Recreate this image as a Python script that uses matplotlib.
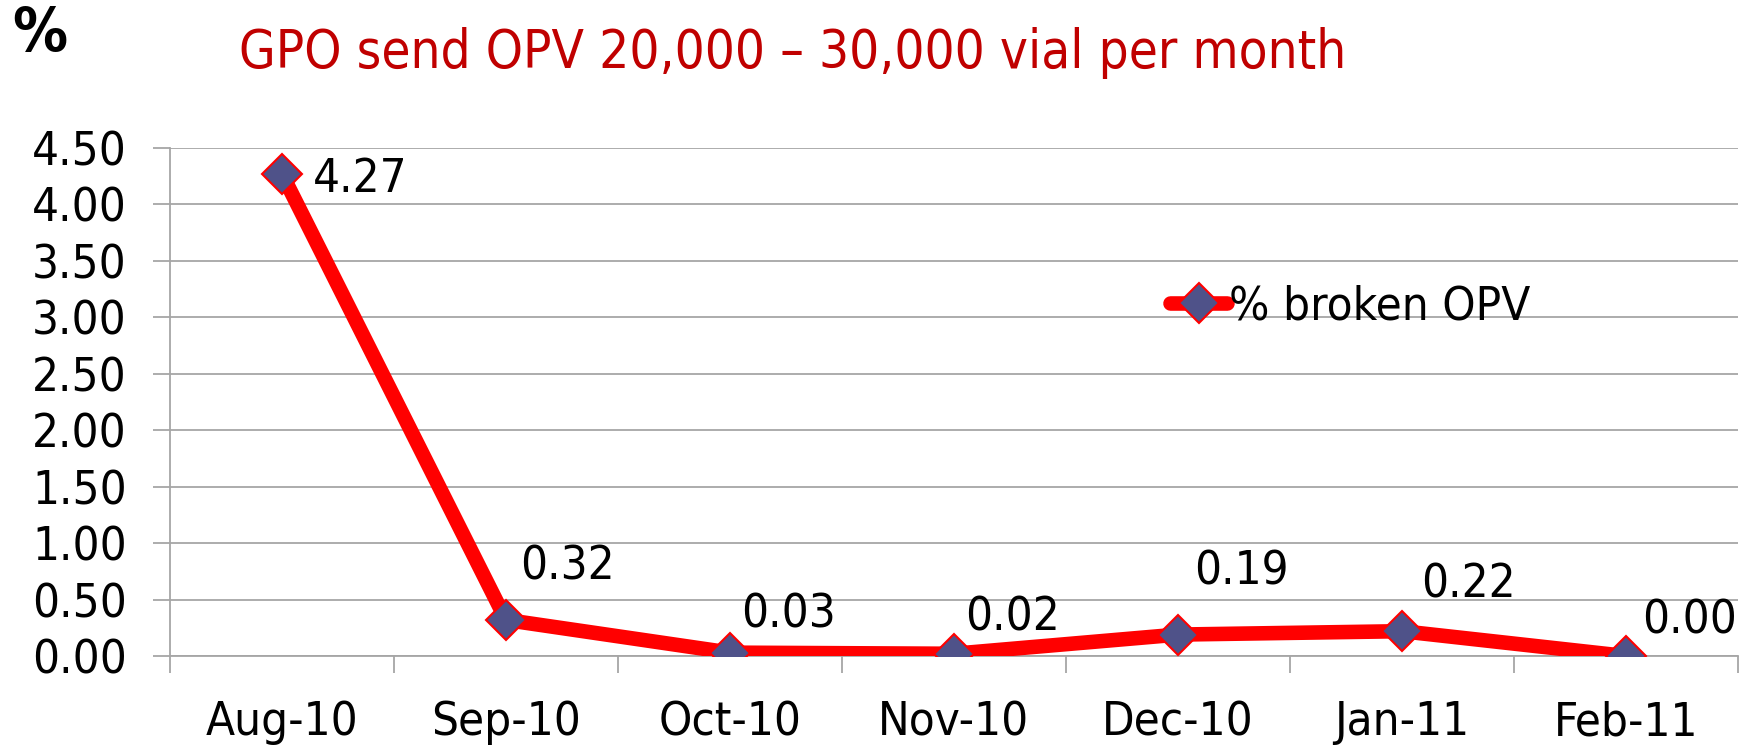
import matplotlib
matplotlib.use("Agg")
import matplotlib.pyplot as plt
from matplotlib.ticker import MultipleLocator, FixedLocator

# data
months = ["Aug-10", "Sep-10", "Oct-10", "Nov-10", "Dec-10", "Jan-11", "Feb-11"]
broken_pct = [4.27, 0.32, 0.03, 0.02, 0.19, 0.22, 0.00]
series_name = "% broken OPV"
title = "GPO send OPV 20,000 \u2013 30,000 vial per month"

# label offsets in points (dx, dy) - hand placed like the slide
label_offsets = [(22, -4), (10, 38), (8, 27), (8, 26), (12, 45), (14, 33), (12, 25)]

plt.rcParams['font.family'] = ['DejaVu Sans']
plt.rcParams['font.stretch'] = 'condensed'

FS = 34

fig = plt.figure(figsize=(17.44, 7.46), dpi=100)
ax = fig.add_axes([0.0975, 0.1206, 0.899, 0.681])

x = list(range(len(months)))
ax.plot(x, broken_pct, color='#FF0000', lw=10.5, solid_capstyle='round',
        marker='D', ms=20, mfc='#4F5289', mec='#FF0000', mew=1.5,
        label=series_name, zorder=3)

for xi, v, (dx, dy) in zip(x, broken_pct, label_offsets):
    ax.annotate(f"{v:.2f}", (xi, v), xytext=(dx, dy), textcoords='offset points',
                ha='left', va='center', fontsize=FS, color='black')

ax.set_xlim(-0.5, len(months) - 0.5)
ax.set_ylim(0, 4.5)
ax.yaxis.set_major_locator(MultipleLocator(0.5))
ax.set_yticklabels([f"{t:.2f}" for t in ax.get_yticks()])
ax.set_xticks(x)
ax.set_xticklabels(months)
ax.xaxis.set_minor_locator(FixedLocator([i - 0.5 for i in range(len(months) + 1)]))

ax.grid(axis='y', color='#A6A6A6', lw=1.3)
ax.set_axisbelow(True)
for s in ['top', 'right']:
    ax.spines[s].set_visible(False)
for s in ['left', 'bottom']:
    ax.spines[s].set_color('#A6A6A6')
    ax.spines[s].set_linewidth(1.3)

ax.tick_params(axis='y', length=12, width=1.3, color='#A6A6A6', labelsize=FS, pad=19)
ax.tick_params(axis='x', which='major', length=0, labelsize=FS, pad=32)
ax.tick_params(axis='x', which='minor', length=12, width=1.3, color='#A6A6A6')

ax.legend(loc='center left', bbox_to_anchor=(0.638, 0.687), frameon=False,
          fontsize=FS, handlelength=1.2, handletextpad=0.05, borderpad=0,
          borderaxespad=0)

fig.text(0.137, 0.929, title, color='#C00000', fontsize=38, ha='left', va='center')
fig.text(0.007, 0.954, "%", color='black', fontsize=44, fontweight='bold',
         ha='left', va='center')

fig.savefig("out.png", dpi=100)
